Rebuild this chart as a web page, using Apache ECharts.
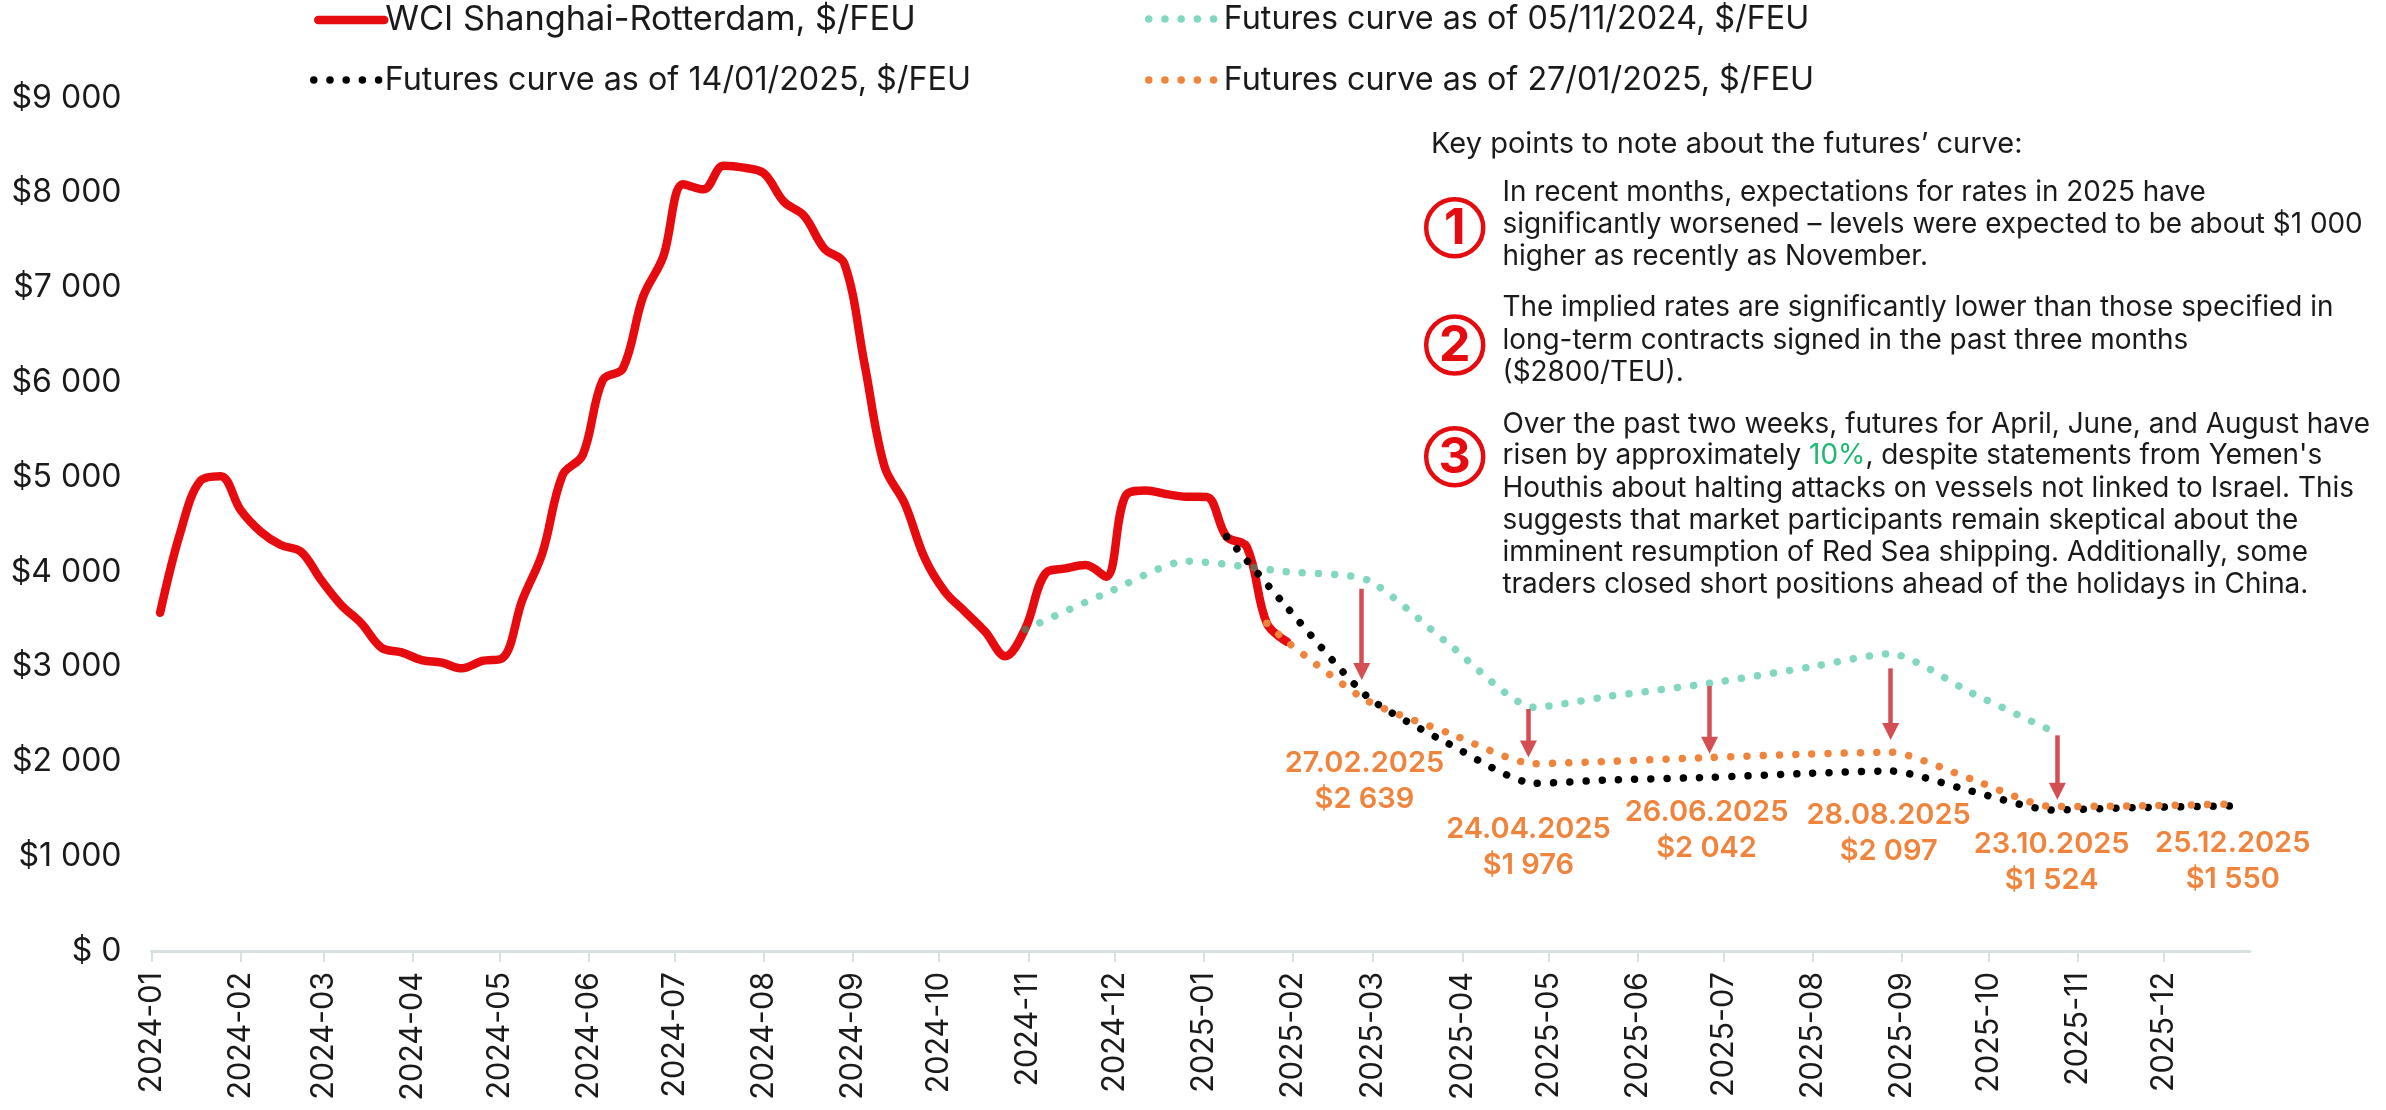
<!DOCTYPE html>
<html><head><meta charset="utf-8">
<script src="https://cdn.jsdelivr.net/npm/echarts@6/dist/echarts.min.js"></script>
<style>html,body{margin:0;padding:0;background:#fff}#c{width:2386px;height:1110px}</style>
</head><body><div id="c"></div>
<script>
const FONT='Inter';
const monthTicks=['2024-01','2024-02','2024-03','2024-04','2024-05','2024-06','2024-07','2024-08','2024-09','2024-10','2024-11','2024-12','2025-01','2025-02','2025-03','2025-04','2025-05','2025-06','2025-07','2025-08','2025-09','2025-10','2025-11','2025-12'];
const yTickStep=1000;
const wciFirstWeek='2024-01-04';
const wciValues=[3569,4413,4960,5010,4653,4424,4283,4213,3914,3650,3457,3200,3151,3070,3042,2982,3060,3088,3703,4200,5022,5233,6024,6147,6903,7325,8090,8036,8285,8265,8205,7905,7757,7413,7255,6200,5110,4723,4143,3791,3580,3369,3110,3404,3985,4037,4072,3950,4810,4860,4821,4793,4790,4371,4265,3457,3263];
const tealDates=['2024-10-31','2024-11-28','2024-12-26','2025-01-30','2025-02-27','2025-03-27','2025-04-26','2025-05-22','2025-06-26','2025-07-31','2025-08-28','2025-09-25','2025-10-24'];
const tealValues=[3394,3774,4114,4002,3914,3246,2571,2687,2825,2996,3137,2725,2310];
const blackDates=['2025-01-09','2025-01-30','2025-02-27','2025-03-27','2025-04-26','2025-05-22','2025-06-26','2025-07-31','2025-08-28','2025-09-25','2025-10-23','2025-11-20','2025-12-25'];
const blackValues=[4371,3626,2683,2191,1769,1804,1832,1875,1899,1688,1488,1512,1530];
const orangeDates=['2025-01-23','2025-01-30','2025-02-27','2025-03-27','2025-04-26','2025-05-22','2025-06-26','2025-07-31','2025-08-28','2025-09-25','2025-10-23','2025-11-20','2025-12-25'];
const orangeValues=[3457,3263,2639,2303,1976,2001,2042,2078,2097,1815,1524,1530,1550];
const calloutDates=['2025-02-27','2025-04-24','2025-06-26','2025-08-28','2025-10-23','2025-12-25'];
const calloutValues=[2639,1976,2042,2097,1524,1550];
const calloutText=[['27.02.2025','$2 639'],['24.04.2025','$1 976'],['26.06.2025','$2 042'],['28.08.2025','$2 097'],['23.10.2025','$1 524'],['25.12.2025','$1 550']];
const calloutOffsets=[[-3,80],[0,84],[-3,73],[-2,81],[0,56],[0,57]];
const arrowDates=['2025-02-25','2025-04-24','2025-06-26','2025-08-28','2025-10-25'];
const arrowFrom=[3822,2553,2796,2982,2275];
const arrowTo=[2950,2130,2170,2315,1685];
const headLines=['Key points to note about the futures’ curve:'];
const note1=['In recent months, expectations for rates in 2025 have','significantly worsened – levels were expected to be about $1 000','higher as recently as November.'];
const note2=['The implied rates are significantly lower than those specified in','long-term contracts signed in the past three months','($2800/TEU).'];
const note3=['Over the past two weeks, futures for April, June, and August have','risen by approximately {g|10%}, despite statements from Yemen\'s','Houthis about halting attacks on vessels not linked to Israel. This','suggests that market participants remain skeptical about the','imminent resumption of Red Sea shipping. Additionally, some','traders closed short positions ahead of the holidays in China.'];
const ts=s=>{const p=s.split('-').map(Number);return Date.UTC(p[0],p[1]-1,p[2]||1)};
const WEEK=7*864e5;
const pairs=(d,v)=>d.map((x,i)=>[ts(x),v[i]]);
const wciData=wciValues.map((v,i)=>[ts(wciFirstWeek)+i*WEEK,v]);
const fmtY=v=>{if(v===0)return '$ 0';const s=String(v);return '$'+s.slice(0,-3)+' '+s.slice(-3)};
const fmtX=v=>{const d=new Date(v);return d.getUTCFullYear()+'-'+String(d.getUTCMonth()+1).padStart(2,'0')};
const monthVals=monthTicks.map(ts);
const axisGrey='#d7e1e1';
const RED='#e60b0f',ORANGE='#f0843c',ARROW='#d34f54',TXT='#1a1a1a';
const DOTW=7.5;
const dot=(color,op)=>({color,width:DOTW,type:[0.01,16.2],cap:'round',opacity:op===undefined?1:op});
const line=(name,data,ls,z,extra)=>Object.assign({name,type:'line',data,symbol:'none',smooth:0.22,lineStyle:ls,itemStyle:{color:ls.color},z,animation:false,silent:true},extra||{});
const legendBox=(name,left,top,ls,size,iw,pad)=>({data:[{name}],left,top,itemWidth:iw,itemHeight:10,itemGap:0,padding:0,selectedMode:false,
  itemStyle:{opacity:0},lineStyle:ls,
  textStyle:{fontFamily:FONT,fontSize:size,color:TXT,padding:[0,0,0,pad]}});
const g=[];
const tx=(x,y,text,size,fill,weight,rich)=>g.push({type:'text',x,y,silent:true,style:{text,fontFamily:FONT,fontSize:size,fontWeight:weight||400,fill,verticalAlign:'middle',rich}});
const BODY=27.9;
tx(1431,144,headLines[0],29,TXT);
note1.forEach((t,i)=>tx(1502.5,[192.7,224.3,256.7][i],t,BODY,TXT));
note2.forEach((t,i)=>tx(1502.5,[307.7,340.3,372.7][i],t,BODY,TXT));
const greenRich={g:{fill:'#1fb871',fontFamily:FONT,fontSize:BODY}};
note3.forEach((t,i)=>tx(1502.5,[424.3,456,488.3,520.3,552.7,584.3][i],t,BODY,TXT,400,greenRich));
[[227.7,'1'],[345,'2'],[456.7,'3']].forEach(([cy,n])=>{
 g.push({type:'circle',silent:true,shape:{cx:1454.7,cy,r:28.5},style:{fill:'none',stroke:RED,lineWidth:4.5}});
 g.push({type:'text',x:1454.7,y:cy+1,silent:true,style:{text:n,fontFamily:FONT,fontSize:50,fontWeight:700,fill:RED,align:'center',verticalAlign:'middle'}});
});
const option={
 backgroundColor:'#fff',animation:false,
 grid:{left:151.5,right:136,top:98,bottom:159,containLabel:false},
 legend:[
  legendBox('WCI Shanghai-Rotterdam, $/FEU',314,3,{color:RED,width:8.5,type:'solid',cap:'round'},34.3,66,-4),
  legendBox('Futures curve as of 05/11/2024, $/FEU',1145,3,dot('#13b388',0.53),32.3,74,-4),
  legendBox('Futures curve as of 14/01/2025, $/FEU',310,64,dot('#000000'),32.3,74,-8),
  legendBox('Futures curve as of 27/01/2025, $/FEU',1145,64,dot(ORANGE),32.3,74,-4)],
 xAxis:{type:'value',min:ts('2024-01-01'),max:ts('2025-12-31'),splitLine:{show:false},
  axisLine:{show:true,onZero:false,lineStyle:{color:axisGrey,width:3}},
  axisTick:{show:true,length:11,customValues:monthVals,lineStyle:{color:axisGrey,width:2}},
  axisLabel:{show:true,rotate:90,margin:21,customValues:monthVals,formatter:fmtX,fontFamily:FONT,fontSize:30.5,color:TXT}},
 yAxis:{type:'value',min:0,max:9000,interval:yTickStep,splitLine:{show:false},axisLine:{show:false},axisTick:{show:false},
  axisLabel:{margin:30,formatter:fmtY,fontFamily:FONT,fontSize:32,color:TXT}},
 graphic:g,
 series:[
  line('WCI Shanghai-Rotterdam, $/FEU',wciData,{color:RED,width:8.5,cap:'round'},2,{smooth:0.36}),
  line('Futures curve as of 05/11/2024, $/FEU',pairs(tealDates,tealValues),dot('#13b388',0.53),3,{
    markLine:{silent:true,animation:false,symbol:['none','triangle'],symbolSize:[17,17],label:{show:false},
     lineStyle:{color:ARROW,width:4.5,type:'solid',opacity:1},itemStyle:{color:ARROW},
     data:arrowDates.map((d,i)=>[{coord:[ts(d),arrowFrom[i]]},{coord:[ts(d),arrowTo[i]]}])}}),
  line('Futures curve as of 14/01/2025, $/FEU',pairs(blackDates,blackValues),dot('#000000'),4),
  line('Futures curve as of 27/01/2025, $/FEU',pairs(orangeDates,orangeValues),dot(ORANGE),5),
  {type:'scatter',name:'callouts',silent:true,animation:false,symbol:'circle',symbolSize:1,itemStyle:{color:'rgba(0,0,0,0)',opacity:1},z:6,
   data:calloutDates.map((d,i)=>({value:[ts(d),calloutValues[i]],label:{show:true,position:'inside',offset:calloutOffsets[i],formatter:calloutText[i].join('\n'),fontFamily:FONT,fontWeight:600,fontSize:29,lineHeight:36,color:ORANGE,opacity:1,align:'center',verticalAlign:'middle'}}))}
 ]
};
echarts.init(document.getElementById('c'),null,{renderer:'canvas'}).setOption(option);
</script></body></html>
